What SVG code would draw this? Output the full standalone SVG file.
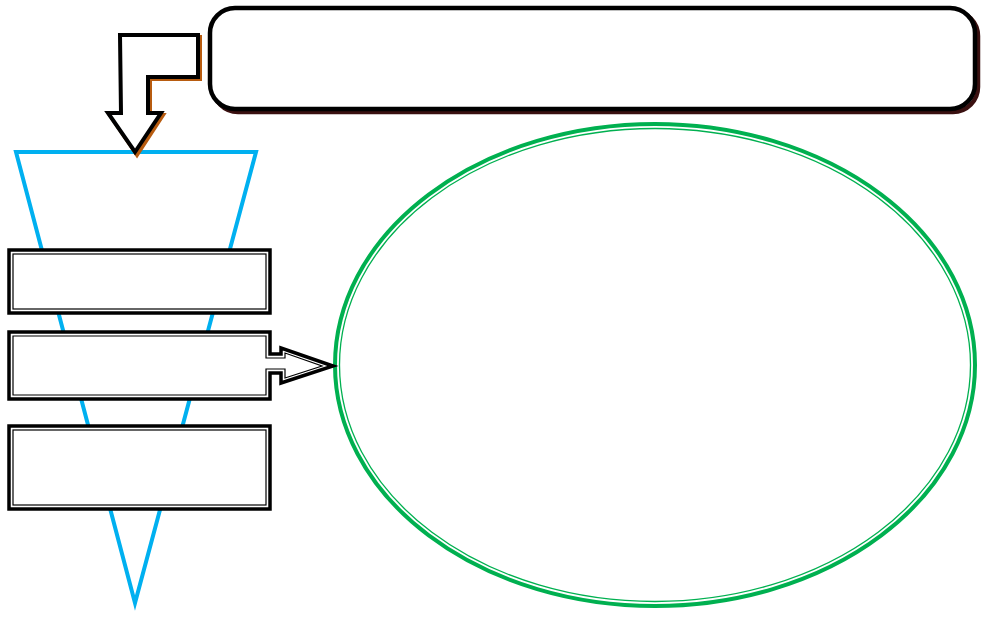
<svg xmlns="http://www.w3.org/2000/svg" width="986" height="618" viewBox="0 0 986 618">
<style>
.box{fill:#fff;stroke:#000;stroke-width:3.5}
.inner{fill:none;stroke:#000;stroke-width:1.2}
.funnel{fill:none;stroke:#00B0F0;stroke-width:4;stroke-linejoin:miter}
.ell{fill:none;stroke:#00B050}
</style>
<rect width="986" height="618" fill="#fff"/>
<g id="funnel">
<polygon class="funnel" points="16,152 256,152 135,603"/>
</g>
<g id="title">
<rect x="213" y="11" width="765" height="101" rx="25" fill="none" stroke="#3a1010" stroke-width="4.5"/>
<rect x="210" y="8" width="765" height="101" rx="25" fill="#fff" stroke="#000" stroke-width="4.5"/>
</g>
<g id="connectors">
<path d="M122,37 L200,37 L200,79 L150,79 L150,115 L163,115 L137,155 L110,115 L123,115 Z" fill="none" stroke="#B85C10" stroke-width="4" stroke-linejoin="miter"/>
<path d="M120,35 L198,35 L198,77 L148,77 L148,113 L161,113 L135,152 L108,113 L121,113 Z" fill="#fff" stroke="#000" stroke-width="4" stroke-linejoin="miter"/>
</g>
<g id="ellipse">
<ellipse class="ell" cx="655" cy="365" rx="320" ry="241" stroke-width="4"/>
<ellipse class="ell" cx="655" cy="365" rx="315.5" ry="236.5" stroke-width="1.3"/>
</g>
<g id="box1">
<rect class="box" x="9" y="250" width="261" height="63"/>
<rect class="inner" x="13" y="254" width="253" height="55"/>
</g>
<g id="box2">
<path d="M9,332 L270,332 L270,354 L281,354 L281,348 L333,366 L281,383 L281,373 L270,373 L270,399 L9,399 Z" fill="#fff" stroke="#000" stroke-width="3.5" stroke-linejoin="miter"/>
<path d="M13,336 L266,336 L266,358 L285,358 L285,353 L322,366 L285,378 L285,369 L266,369 L266,395 L13,395 Z" fill="none" stroke="#000" stroke-width="1.2" stroke-linejoin="miter"/>
</g>
<g id="box3">
<rect class="box" x="9" y="426" width="261" height="83"/>
<rect class="inner" x="13" y="430" width="253" height="75"/>
</g>
</svg>
